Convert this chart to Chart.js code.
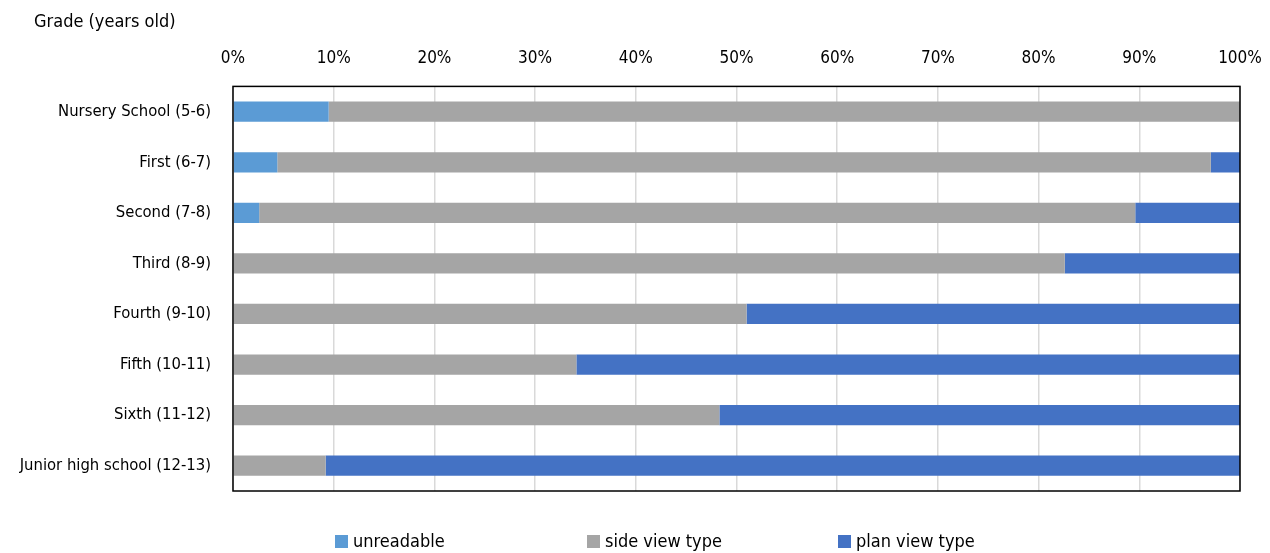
<!DOCTYPE html>
<html><head><meta charset="utf-8">
<script src="https://cdn.jsdelivr.net/npm/chart.js@4/dist/chart.umd.min.js"></script>
<style>html,body{margin:0;padding:0;background:#fff;}#wrap{width:1270px;height:553px;}</style>
</head><body><div id="wrap"><canvas id="c" width="1270" height="553"></canvas></div>
<script>
const categories = ["Nursery School (5-6)","First (6-7)","Second (7-8)","Third (8-9)","Fourth (9-10)","Fifth (10-11)","Sixth (11-12)","Junior high school (12-13)"];
const unreadable = [9.5, 4.4, 2.6, 0, 0, 0, 0, 0];
const sideView = [90.5, 92.7, 87.0, 82.6, 51.0, 34.1, 48.3, 9.2];
const planView = [0, 2.9, 10.4, 17.4, 49.0, 65.9, 51.7, 90.8];
const seriesNames = ["unreadable","side view type","plan view type"];
const axisTitle = "Grade (years old)";

const FONT = '"Liberation Sans Narrow","DejaVu Sans Condensed","Arial Narrow",sans-serif';
const colors = ["#5b9bd5","#a5a5a5","#4472c4"];

const extras = {
  id:'extras',
  afterDraw(chart){
    const ctx = chart.ctx, a = chart.chartArea;
    ctx.save();
    ctx.strokeStyle = '#000'; ctx.lineWidth = 1.5;
    ctx.strokeRect(a.left, a.top, a.right - a.left, a.bottom - a.top);
    ctx.fillStyle = '#000';
    ctx.font = '18px ' + FONT;
    ctx.textBaseline = 'middle'; ctx.textAlign = 'left';
    ctx.fillText(axisTitle, 34, 22);
    // legend
    const xs = [335, 587, 838];
    ctx.font = '18px ' + FONT;
    chart.data.datasets.forEach((ds, i) => {
      ctx.fillStyle = ds.backgroundColor;
      ctx.fillRect(xs[i], 535, 13, 13);
      ctx.fillStyle = '#000';
      ctx.fillText(ds.label, xs[i] + 18, 542);
    });
    ctx.restore();
  }
};

new Chart(document.getElementById('c'), {
  type:'bar',
  data:{
    labels: categories,
    datasets:[
      {label: seriesNames[0], data: unreadable, backgroundColor: colors[0]},
      {label: seriesNames[1], data: sideView, backgroundColor: colors[1]},
      {label: seriesNames[2], data: planView, backgroundColor: colors[2]}
    ]
  },
  options:{
    indexAxis:'y',
    responsive:false,
    animation:false,
    layout:{padding:{left:8,right:0,top:30,bottom:62}},
    datasets:{bar:{barPercentage:0.4,categoryPercentage:1}},
    plugins:{legend:{display:false},tooltip:{enabled:false}},
    scales:{
      x:{
        position:'top', stacked:true, min:0, max:100,
        ticks:{stepSize:10, callback:v=>v+'%', color:'#000', font:{family:FONT,size:17}, padding:18, maxRotation:0},
        grid:{color:'#d9d9d9', lineWidth:1.5, drawTicks:false},
        border:{display:false},
        afterFit(s){ s.paddingRight = 30; s.paddingLeft = 0; }
      },
      y:{
        stacked:true,
        ticks:{color:'#000', font:{family:FONT,size:16.5}, padding:22},
        grid:{display:false, drawTicks:false},
        border:{display:false},
        afterFit(s){ s.width = 233 - 8; }
      }
    }
  },
  plugins:[extras]
});
</script></body></html>
